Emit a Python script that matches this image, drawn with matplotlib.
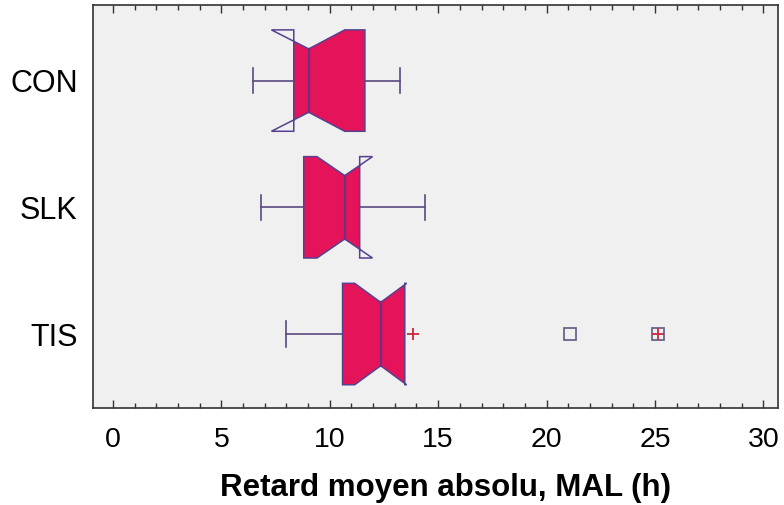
import matplotlib
matplotlib.use('Agg')
import matplotlib.pyplot as plt
from matplotlib.patches import Polygon, Rectangle

# ---- data ----
categories = ['CON', 'SLK', 'TIS']
whis_lo = [6.46, 6.85, 8.00]
q1 = [8.34, 8.80, 10.59]
median = [9.03, 10.69, 12.35]
q3 = [11.62, 11.38, 13.46]
whis_hi = [13.26, 14.38, 13.46]
notch_lo = [7.31, 9.41, 11.15]
notch_hi = [10.69, 11.97, 13.54]
plus_points = [[], [], [13.82, 25.15]]
square_points = [[], [], [21.07, 25.15]]

xticks = [0, 5, 10, 15, 20, 25, 30]
xlabel = 'Retard moyen absolu, MAL (h)'

# ---- style ----
fill_col = '#e5145a'
edge_col = '#56408f'
med_col = '#6e2f86'
whisk_col = '#5a4a7e'
bg_col = '#f0f0f0'

plt.rcParams['font.family'] = ['Liberation Sans', 'DejaVu Sans']

fig = plt.figure(figsize=(7.84, 5.05), dpi=100)
ax = fig.add_axes([0.1186, 0.192, 0.8737, 0.798])
ax.set_facecolor(bg_col)

h = 0.40    # box half height
nh = 0.25   # notch waist half height
cap = 0.10  # whisker cap half length

for i, cat in enumerate(categories):
    y = i + 1
    a, b, m, c, d = q1[i], notch_lo[i], median[i], notch_hi[i], q3[i]
    verts = [(a, y - h), (b, y - h), (m, y - nh), (c, y - h), (d, y - h),
             (d, y + h), (c, y + h), (m, y + nh), (b, y + h), (a, y + h)]
    fillp = Polygon(verts, closed=True, facecolor=fill_col, edgecolor='none', zorder=2)
    ax.add_patch(fillp)
    clip = Rectangle((a, y - h), d - a, 2 * h, transform=ax.transData)
    fillp.set_clip_path(clip)
    ax.add_patch(Polygon(verts, closed=True, fill=False, edgecolor=edge_col,
                         linewidth=1.1, zorder=3))
    ax.plot([m, m], [y - nh, y + nh], color=med_col, lw=1.6, zorder=4)
    # whiskers
    if whis_lo[i] < a:
        ax.plot([whis_lo[i], a], [y, y], color=whisk_col, lw=1.2, zorder=1)
        ax.plot([whis_lo[i], whis_lo[i]], [y - cap, y + cap], color=whisk_col, lw=1.2, zorder=1)
    if whis_hi[i] > d:
        ax.plot([d, whis_hi[i]], [y, y], color=whisk_col, lw=1.2, zorder=1)
        ax.plot([whis_hi[i], whis_hi[i]], [y - cap, y + cap], color=whisk_col, lw=1.2, zorder=1)
    if square_points[i]:
        ax.plot(square_points[i], [y] * len(square_points[i]), linestyle='none',
                marker='s', markersize=8, markerfacecolor='none',
                markeredgecolor='#6a6488', markeredgewidth=1.3, zorder=5)
    if plus_points[i]:
        ax.plot(plus_points[i], [y] * len(plus_points[i]), linestyle='none',
                marker='+', markersize=8, markeredgecolor='#c8283c',
                markeredgewidth=1.3, zorder=6)

ax.set_xlim(-0.92, 30.67)
ax.set_ylim(3.584, 0.404)
ax.set_yticks([1, 2, 3])
ax.set_yticklabels(categories, fontsize=22)
ax.tick_params(axis='y', length=0, pad=11)

ax.set_xticks(xticks)
ax.set_xticks(range(0, 31), minor=True)
ax.set_xticklabels([str(t) for t in xticks], fontsize=20.5)
ax.tick_params(axis='x', which='both', direction='in', top=True, bottom=True,
               color='#333333', width=1.0)
ax.tick_params(axis='x', which='major', length=5.5, pad=14)
ax.tick_params(axis='x', which='minor', length=3.5)
ax.set_xlabel(xlabel, fontsize=22.5, fontweight='bold', labelpad=14, x=0.515)

for s in ax.spines.values():
    s.set_color('#333333')
    s.set_linewidth(1.2)

fig.savefig('out.png', dpi=100)
